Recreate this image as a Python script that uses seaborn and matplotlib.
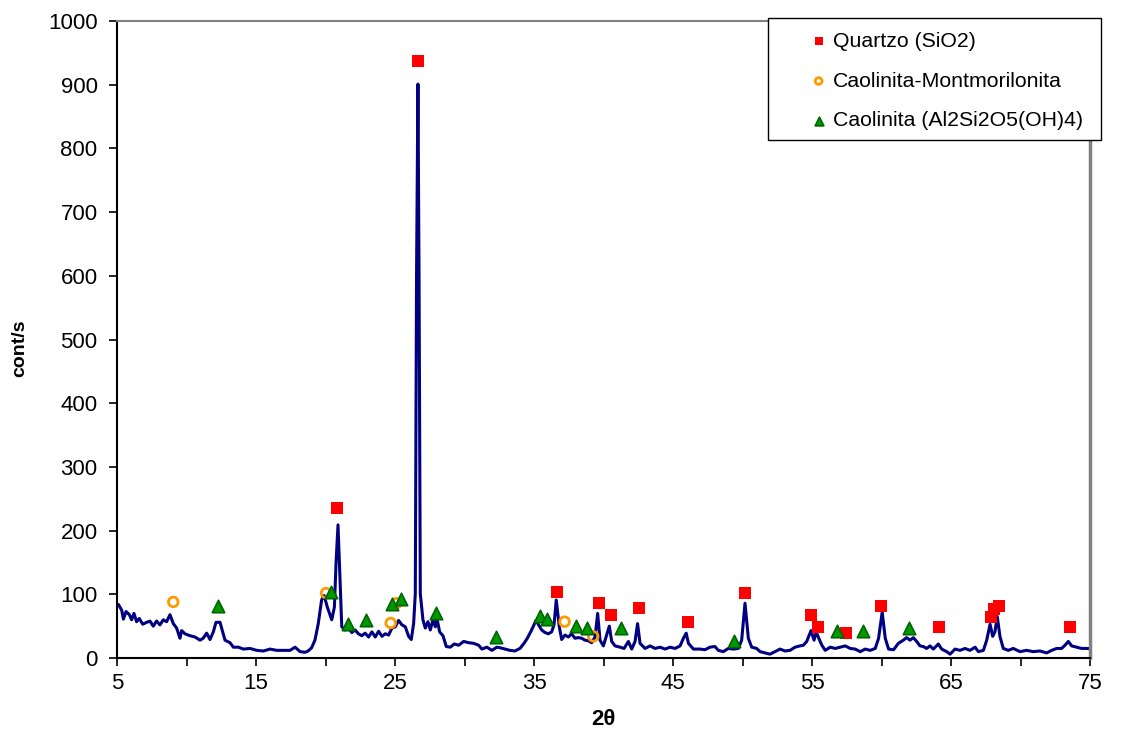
import matplotlib
matplotlib.use("Agg")
import matplotlib.pyplot as plt
from matplotlib.patches import Rectangle
import seaborn as sns
import pandas as pd

# XRD pattern (2theta vs counts per second)
two_theta = [5.0, 5.1, 5.34, 5.46, 5.65, 5.89, 6.05, 6.22, 6.41, 6.6, 6.85, 7.13, 7.37, 7.61, 7.85,
             8.09, 8.33, 8.57, 8.81, 9.05, 9.29, 9.53, 9.65, 9.89, 10.25, 10.61, 10.97, 11.2, 11.45,
             11.69, 11.93, 12.12, 12.41, 12.6, 12.77, 13.13, 13.37, 13.73, 14.09, 14.57, 15.05, 15.53,
             16.01, 16.49, 16.97, 17.45, 17.81, 18.17, 18.53, 18.75, 19.0, 19.24, 19.48, 19.72, 19.9,
             20.13, 20.45, 20.64, 20.76, 20.9, 21.05, 21.17, 21.41, 21.65, 21.89, 22.13, 22.37, 22.61,
             22.85, 23.1, 23.34, 23.58, 23.82, 24.06, 24.3, 24.54, 24.78, 25.02, 25.26, 25.5, 25.74,
             25.98, 26.17, 26.34, 26.46, 26.55, 26.65, 26.73, 26.82, 27.01, 27.18, 27.37, 27.54, 27.73,
             27.9, 28.02, 28.21, 28.45, 28.69, 28.98, 29.26, 29.58, 29.94, 30.3, 30.66, 31.02, 31.25,
             31.61, 31.97, 32.33, 32.57, 32.91, 33.27, 33.63, 33.99, 34.28, 34.52, 34.83, 35.14, 35.31,
             35.55, 35.79, 36.03, 36.27, 36.44, 36.6, 36.82, 36.99, 37.23, 37.47, 37.71, 37.95, 38.19,
             38.43, 38.67, 38.91, 39.15, 39.39, 39.58, 39.75, 39.99, 40.23, 40.42, 40.59, 40.83, 41.19,
             41.48, 41.79, 42.03, 42.27, 42.45, 42.63, 42.99, 43.35, 43.71, 44.07, 44.43, 44.79, 45.15,
             45.51, 45.75, 45.95, 46.11, 46.47, 46.95, 47.3, 47.66, 48.02, 48.26, 48.62, 48.98, 49.34,
             49.7, 49.94, 50.18, 50.42, 50.66, 51.02, 51.26, 51.62, 51.98, 52.34, 52.7, 53.06, 53.42,
             53.78, 54.14, 54.38, 54.62, 54.93, 55.15, 55.3, 55.49, 55.71, 55.95, 56.31, 56.67, 57.03,
             57.39, 57.75, 58.11, 58.47, 58.83, 59.19, 59.55, 59.79, 60.05, 60.27, 60.51, 60.87, 61.21,
             61.57, 61.81, 62.05, 62.29, 62.53, 62.77, 63.01, 63.25, 63.49, 63.73, 64.09, 64.33, 64.69,
             64.93, 65.29, 65.65, 66.01, 66.37, 66.73, 66.97, 67.33, 67.57, 67.81, 68.0, 68.16, 68.33,
             68.52, 68.76, 69.12, 69.48, 69.96, 70.44, 70.92, 71.4, 71.88, 72.24, 72.6, 72.96, 73.2,
             73.44, 73.68, 74.04, 74.4, 74.88, 75.0]
counts = [82, 84, 75, 61, 73, 68, 60, 70, 57, 62, 53, 56, 58, 50, 58,
          52, 60, 57, 68, 54, 47, 31, 43, 38, 35, 33, 28, 31, 39,
          29, 41, 56, 56, 41, 28, 24, 17, 17, 14, 15, 12, 11,
          14, 12, 12, 12, 17, 10, 9, 11, 16, 28, 54, 91, 98,
          80, 60, 80, 150, 209, 122, 49, 44, 47, 40, 44, 38, 35,
          39, 33, 41, 33, 42, 34, 38, 36, 47, 49, 59, 52, 49,
          34, 29, 54, 101, 600, 901, 600, 101, 60, 47, 57, 44, 60,
          49, 62, 41, 35, 18, 17, 22, 20, 26, 24, 23, 20, 14,
          17, 12, 17, 16, 14, 12, 11, 15, 23, 31, 44, 59, 53,
          44, 40, 38, 41, 52, 91, 49, 29, 36, 33, 38, 31, 32,
          31, 28, 27, 24, 33, 70, 28, 19, 36, 50, 26, 19, 17,
          15, 26, 14, 26, 54, 23, 15, 19, 15, 17, 14, 17, 15,
          19, 31, 39, 23, 14, 14, 13, 17, 18, 12, 10, 15, 14,
          15, 28, 86, 31, 17, 15, 10, 8, 6, 10, 14, 11, 12,
          17, 19, 20, 26, 43, 28, 41, 31, 20, 12, 17, 15, 17,
          19, 15, 14, 10, 14, 12, 15, 31, 72, 31, 14, 13, 23,
          28, 32, 28, 32, 26, 19, 18, 15, 19, 14, 22, 14, 10,
          6, 14, 12, 15, 12, 17, 10, 12, 28, 53, 34, 41, 65,
          34, 15, 12, 15, 10, 12, 10, 11, 8, 12, 15, 15, 20,
          26, 19, 17, 15, 15, 14]

# Phase identification markers
quartz_x = [20.85, 26.63, 36.66, 39.67, 40.56, 42.55, 46.08, 50.15, 54.9, 55.45, 57.43,
            59.97, 64.12, 67.85, 68.08, 68.46, 73.57]
quartz_y = [236, 937, 104, 87, 68, 79, 57, 102, 68, 48, 40, 82, 48, 65, 77, 81, 49]

caol_mont_x = [9.05, 20.04, 24.69, 25.1, 37.2, 39.26]
caol_mont_y = [88, 102, 55, 86, 57, 34]

caol_x = [12.29, 20.37, 21.62, 22.91, 24.78, 25.4, 27.95, 32.25, 35.43, 35.96, 38.0, 38.79,
          41.23, 49.42, 56.78, 58.64, 61.98]
caol_y = [82, 104, 54, 59, 85, 93, 71, 33, 66, 62, 50, 47, 47, 27, 43, 43, 47]

labels = ["Quartzo (SiO2)", "Caolinita-Montmorilonita", "Caolinita (Al2Si2O5(OH)4)"]

df = pd.DataFrame({"2theta": two_theta, "counts": counts})

sns.set_style("white")
plt.rcParams["font.family"] = ["Liberation Sans", "DejaVu Sans"]
plt.rcParams["text.color"] = "black"
plt.rcParams["axes.labelcolor"] = "black"

W, H = 1127, 733
fig = plt.figure(figsize=(W / 100, H / 100), dpi=100)
ax = fig.add_axes([117 / W, 1 - 658 / H, (1090 - 117) / W, (658 - 21) / H])

sns.lineplot(data=df, x="2theta", y="counts", color="#000080", linewidth=2.2,
             estimator=None, ax=ax, zorder=2)

sns.scatterplot(x=quartz_x, y=quartz_y, marker="s", color="#FF0000", s=78,
                linewidth=0, ax=ax, zorder=3)
h_quartz = ax.collections[-1]

sns.scatterplot(x=caol_mont_x, y=caol_mont_y, marker="o", color="#FF9900", s=48,
                linewidth=2.0, ax=ax, zorder=3)
h_mont = ax.collections[-1]
h_mont.set_facecolor("none")
h_mont.set_edgecolor("#FF9900")

sns.scatterplot(x=caol_x, y=caol_y, marker="^", color="#009900", s=80,
                edgecolor="#006400", linewidth=1.2, ax=ax, zorder=3)
h_caol = ax.collections[-1]

ax.set_xlim(5, 75)
ax.set_ylim(0, 1000)
ax.set_xticks(range(5, 76, 10))
ax.set_xticks(range(10, 75, 10), minor=True)
ax.set_yticks(range(0, 1001, 100))

for side in ["left", "bottom"]:
    ax.spines[side].set_color("black")
    ax.spines[side].set_linewidth(1.5)
ax.spines["top"].set_color("#808080")
ax.spines["top"].set_linewidth(1.5)
ax.spines["right"].set_color("#808080")
ax.spines["right"].set_linewidth(2.5)

ax.tick_params(axis="both", which="both", direction="out", length=6, width=1.2,
               colors="black", labelsize=16, bottom=True, left=True)
ax.tick_params(axis="x", pad=5)
ax.tick_params(axis="y", pad=8)

ax.set_xlabel("2θ", fontsize=16, fontweight="bold", color="black")
ax.set_ylabel("cont/s", fontsize=14, fontweight="bold", color="black")
ax.xaxis.set_label_coords(0.5, -0.08)
ax.yaxis.set_label_coords(-0.091, 0.487)

# legend box drawn separately so the entries sit where they do in the reference
fig.add_artist(Rectangle((768 / W, 1 - 140 / H), 333 / W, 122 / H, transform=fig.transFigure,
                         facecolor="white", edgecolor="black", linewidth=1.0, zorder=4))
leg = fig.legend([h_quartz, h_mont, h_caol], labels, loc="upper left",
                 bbox_to_anchor=(808 / W, 1 - 32 / H), borderaxespad=0, borderpad=0,
                 frameon=False, fontsize=15.3, handlelength=1.0, handletextpad=0.17,
                 labelspacing=0.97, markerscale=0.7, labelcolor="black")
leg.set_zorder(5)

fig.savefig("out.png", dpi=100)
